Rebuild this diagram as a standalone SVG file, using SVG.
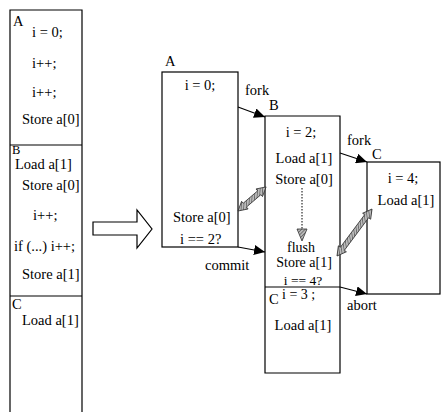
<svg xmlns="http://www.w3.org/2000/svg" width="442" height="412" viewBox="0 0 442 412">
<style>
text{font-family:"Liberation Serif","Times New Roman",serif;font-size:14.5px;fill:#000}
.m{text-anchor:middle}
.box{fill:none;stroke:#000;stroke-width:1.2}
.conn{stroke:#000;stroke-width:1.2;fill:none}
.hatch{fill:url(#hp);stroke:#333;stroke-width:0.8}
</style>
<defs>
<marker id="ah" markerUnits="userSpaceOnUse" markerWidth="12" markerHeight="10" refX="11" refY="5" orient="auto">
<path d="M0,0 L11,5 L0,10 Z" fill="#000"/>
</marker>
<pattern id="hp" patternUnits="userSpaceOnUse" width="2.5" height="2.5" patternTransform="rotate(45)">
<rect width="2.5" height="2.5" fill="#bbb"/>
<line x1="0" y1="0" x2="0" y2="2.5" stroke="#333" stroke-width="1"/>
</pattern>
</defs>

<g id="left-column">
<path class="box" d="M10,412 V10 H82 V412 M10,145 H82 M10,296 H82"/>
</g>
<g id="left-A">
<text x="13" y="26">A</text>
<text x="32" y="37">i = 0;</text>
<text x="32" y="68">i++;</text>
<text x="32" y="97">i++;</text>
<text x="22" y="124">Store a[0]</text>
</g>
<g id="left-B">
<text x="12" y="154" style="font-size:12.5px">B</text>
<text x="15" y="169">Load a[1]</text>
<text x="22" y="190">Store a[0]</text>
<text x="33" y="220">i++;</text>
<text x="14" y="251">if (...) i++;</text>
<text x="22" y="279">Store a[1]</text>
</g>
<g id="left-C">
<text x="12" y="309">C</text>
<text x="22" y="325">Load a[1]</text>
</g>

<g id="big-arrow">
<path d="M93,222 H137 V210 L152,229 L137,248 V235 H93 Z" fill="#fff" stroke="#000" stroke-width="1.2"/>
</g>

<g id="node-A">
<rect class="box" x="162" y="72" width="76" height="175"/>
<text x="165" y="66">A</text>
<text class="m" x="200" y="90">i = 0;</text>
<text x="173" y="222">Store a[0]</text>
<text x="180" y="244">i == 2?</text>
</g>

<g id="node-B">
<path class="box" d="M265,116 H340 V373 H265 Z M265,287 H340"/>
<text x="269" y="110">B</text>
<text class="m" x="301" y="137">i = 2;</text>
<text class="m" x="304" y="163">Load a[1]</text>
<text class="m" x="304" y="184">Store a[0]</text>
<text class="m" x="301" y="252" style="font-size:14px">flush</text>
<text class="m" x="304" y="267" style="font-size:14px">Store a[1]</text>
<text class="m" x="303" y="285" style="font-size:13.5px">i == 4?</text>
</g>
<g id="node-C-restart">
<text x="269" y="304">C</text>
<text x="282" y="299" style="font-size:14px">i = 3 ;</text>
<text class="m" x="303" y="330">Load a[1]</text>
</g>

<g id="node-C">
<rect class="box" x="367" y="162" width="73" height="132"/>
<text x="372" y="159">C</text>
<text class="m" x="403" y="183">i = 4;</text>
<text class="m" x="406" y="205">Load a[1]</text>
</g>

<g id="connectors">
<line class="conn" x1="238" y1="107" x2="265" y2="117" marker-end="url(#ah)"/>
<line class="conn" x1="238" y1="247" x2="265" y2="252" marker-end="url(#ah)"/>
<line class="conn" x1="340" y1="153" x2="367" y2="162" marker-end="url(#ah)"/>
<line class="conn" x1="340" y1="287" x2="367" y2="294" marker-end="url(#ah)"/>
<text x="245" y="95">fork</text>
<text x="205" y="270">commit</text>
<text x="347" y="145">fork</text>
<text x="347" y="310">abort</text>
<path class="hatch" transform="translate(238,211) rotate(-40.6)" d="M0,0 L9,-5 L9,-2.5 L28,-2.5 L28,-5 L37,0 L28,5 L28,2.5 L9,2.5 L9,5 Z"/>
<path class="hatch" transform="translate(337,256) rotate(-53.3)" d="M0,0 L9,-5 L9,-2.5 L49.6,-2.5 L49.6,-5 L58.6,0 L49.6,5 L49.6,2.5 L9,2.5 L9,5 Z"/>
<line x1="302" y1="188" x2="302" y2="229" stroke="#000" stroke-width="1" stroke-dasharray="1.5,1.5"/>
<path class="hatch" d="M297,229 L307,229 L302,241 Z"/>
</g>
</svg>
